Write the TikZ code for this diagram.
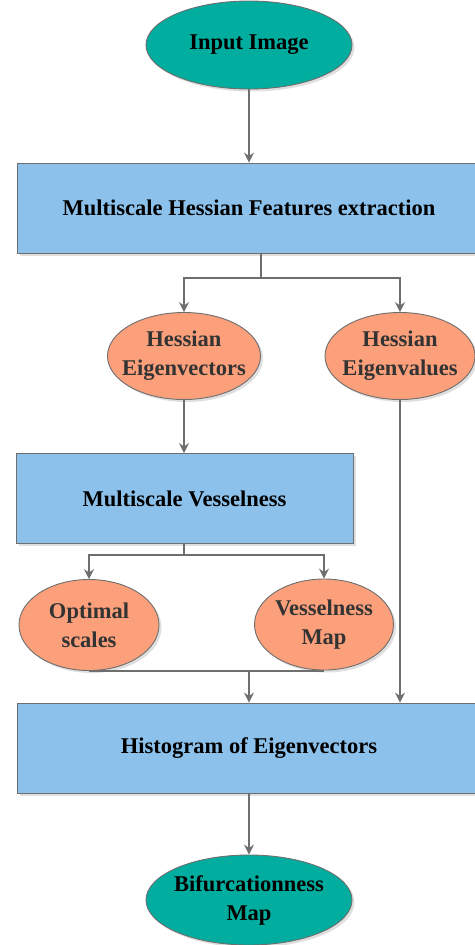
\documentclass[tikz,border=0pt]{standalone}
\usepackage{fontspec}
\setmainfont{Liberation Serif}
\usetikzlibrary{shapes.geometric,shadows,arrows.meta}
\definecolor{tealfill}{HTML}{00AD9E}
\definecolor{bluefill}{HTML}{8BC1EA}
\definecolor{orangefill}{HTML}{FBA07B}
\definecolor{linegray}{HTML}{6E6E6E}

\begin{document}
\begin{tikzpicture}[x=1pt,y=-1pt]
			\tikzstyle{every node}=[font=\bfseries\fontsize{22.5}{29}\selectfont,align=center,inner sep=0pt,
			draw=linegray,line width=0.9pt,drop shadow={opacity=0.25,shadow xshift=2.5pt,shadow yshift=-2.5pt}]
			\tikzstyle{terminal}=[ellipse,inner xsep=-25pt,fill=tealfill,minimum width=206pt,minimum height=88pt]
			\tikzstyle{stepbox}=[rectangle,fill=bluefill,minimum height=90pt]
			\tikzstyle{feature}=[ellipse,inner xsep=-25pt,fill=orangefill,text=black!80,minimum height=87pt]
			\tikzstyle{line}=[draw=linegray,line width=1.2pt]
			\tikzstyle{arr}=[line,-{Stealth[length=10pt,width=10pt,inset=3.5pt]}]
			\useasboundingbox (0,0) rectangle (474,945);
			\node[terminal] (input) at (249,45) {Input Image};
			\node[stepbox,minimum width=464pt] (hfe) at (249,208) {Multiscale Hessian Features extraction};
			\node[feature,minimum width=153pt] (hvec) at (184,356) {Hessian\\Eigenvectors};
			\node[feature,minimum width=150pt] (hval) at (400,356) {Hessian\\Eigenvalues};
			\node[stepbox,minimum width=337pt] (msv) at (184.5,498.5) {Multiscale Vesselness};
			\node[feature,minimum width=140pt,minimum height=91pt] (opt) at (89,625) {Optimal\\scales};
			\node[feature,minimum width=139pt,minimum height=91pt] (vmap) at (324,624.5) {Vesselness\\Map};
			\node[stepbox,minimum width=464pt] (hist) at (249,748) {Histogram of Eigenvectors};
			\node[terminal,minimum height=90pt] (bif) at (249,900) {Bifurcationness\\Map};
			\coordinate (s1) at (261,278);
			\coordinate (s2) at (184,555);
			\coordinate (m1) at (249,671);
			\draw[arr] (input) -- (hfe);
			\draw[line] (hfe.south -| s1) -- (s1);
			\draw[arr] (s1) -| (hvec.north);
			\draw[arr] (s1) -| (hval.north);
			\draw[arr] (hvec) -- (hvec.south |- msv.north);
			\draw[line] (msv.south -| s2) -- (s2);
			\draw[arr] (s2) -| (opt.north);
			\draw[arr] (s2) -| (vmap.north);
			\draw[line] (opt.south |- m1) -- (vmap.south |- m1);
			\draw[arr] (m1) -- (m1 |- hist.north);
			\draw[arr] (hval) -- (hval.south |- hist.north);
			\draw[arr] (hist) -- (bif);
\end{tikzpicture}
\end{document}
